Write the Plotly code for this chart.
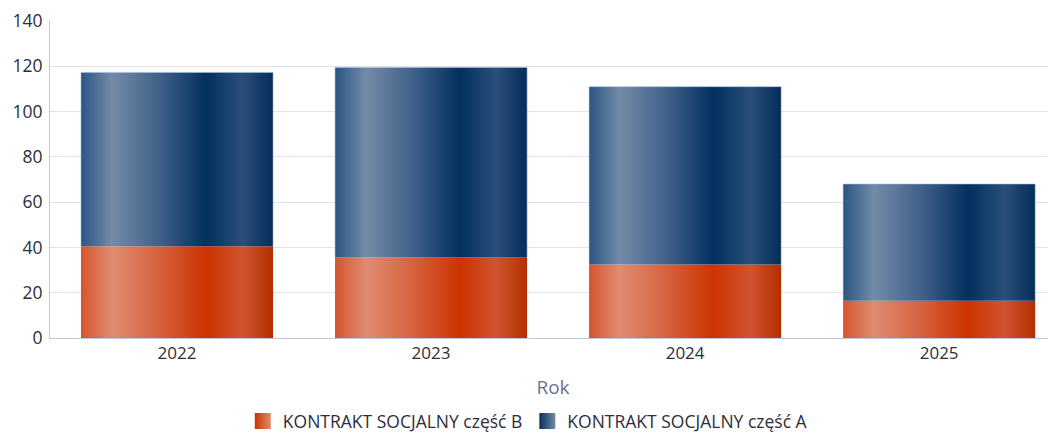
import plotly.graph_objects as go

years = ["2022", "2023", "2024", "2025"]
part_b = [40.5, 35.5, 32.5, 16.5]
part_a = [76.8, 84.0, 78.5, 51.5]
series_names = ["KONTRAKT SOCJALNY część B", "KONTRAKT SOCJALNY część A"]
y_ticks = [0, 20, 40, 60, 80, 100, 120, 140]

orange_scale = [[0.0, "#d4552c"], [0.16, "#e08b72"], [0.4, "#d6633f"],
                [0.65, "#cc3300"], [0.84, "#d15430"], [1.0, "#b32f00"]]
blue_scale = [[0.0, "#2b5583"], [0.16, "#738ba8"], [0.4, "#42628a"],
              [0.65, "#03305f"], [0.84, "#2a4f7a"], [1.0, "#042d5a"]]

bar_w = 0.756
fig = go.Figure()

def add_segments(base, vals, name, scale, edge, ew):
    for i, (b0, v) in enumerate(zip(base, vals)):
        x0, x1 = i - bar_w / 2, i + bar_w / 2
        y0, y1 = b0, b0 + v
        fig.add_trace(go.Scatter(
            x=[x0, x0, x1, x1], y=[y0, y1, y1, y0],
            mode="lines", fill="toself",
            fillgradient=dict(type="horizontal", colorscale=scale),
            line=dict(color=edge, width=ew),
            name=name, legendgroup=name, showlegend=False,
            hoverinfo="skip",
        ))

add_segments([0] * 4, part_b, series_names[0], orange_scale, "rgba(0,0,0,0)", 0)
add_segments(part_b, part_a, series_names[1], blue_scale, "rgba(170,185,210,0.55)", 1)

# legend entries
for name, c0, c1 in [(series_names[0], "#e08b72", "#cc3300"),
                     (series_names[1], "#738ba8", "#03305f")]:
    fig.add_trace(go.Scatter(
        x=[None], y=[None], mode="markers", name=name, legendgroup=name,
        marker=dict(symbol="square", size=18, color=c1,
                    gradient=dict(type="horizontal", color=c0)),
        showlegend=True, hoverinfo="skip",
    ))

fig.update_layout(
    width=1048, height=426,
    margin=dict(l=42, r=0, t=11, b=96),
    paper_bgcolor="white", plot_bgcolor="white",
    font=dict(family="Open Sans", color="#333333"),
    showlegend=True,
    legend=dict(orientation="h", xref="container", yref="container",
                x=0.496, xanchor="center", y=0.03, yanchor="middle",
                font=dict(size=17.5, color="#2e2e3a"),
                itemwidth=30, tracegroupgap=0, itemsizing="trace"),
    xaxis=dict(range=[-0.5, 3.46], tickvals=list(range(len(years))), ticktext=years,
               showgrid=False, zeroline=False, showline=True, linecolor="#c4c4d8",
               linewidth=1, ticks="", tickfont=dict(size=17, color="#2e2e3a"),
               title=dict(text="Rok", font=dict(size=19, color="#6e6e96"), standoff=17),
               fixedrange=True),
    yaxis=dict(range=[0, 140], tickvals=y_ticks, showgrid=True, gridcolor="#e2e2ec",
               zeroline=False, showline=True, linecolor="#c4c4d8", linewidth=1,
               ticks="", tickfont=dict(size=17.5, color="#2e2e3a"), ticklabelstandoff=3,
               ticklabeloverflow="allow", fixedrange=True),
)

fig.write_html("out.html")
